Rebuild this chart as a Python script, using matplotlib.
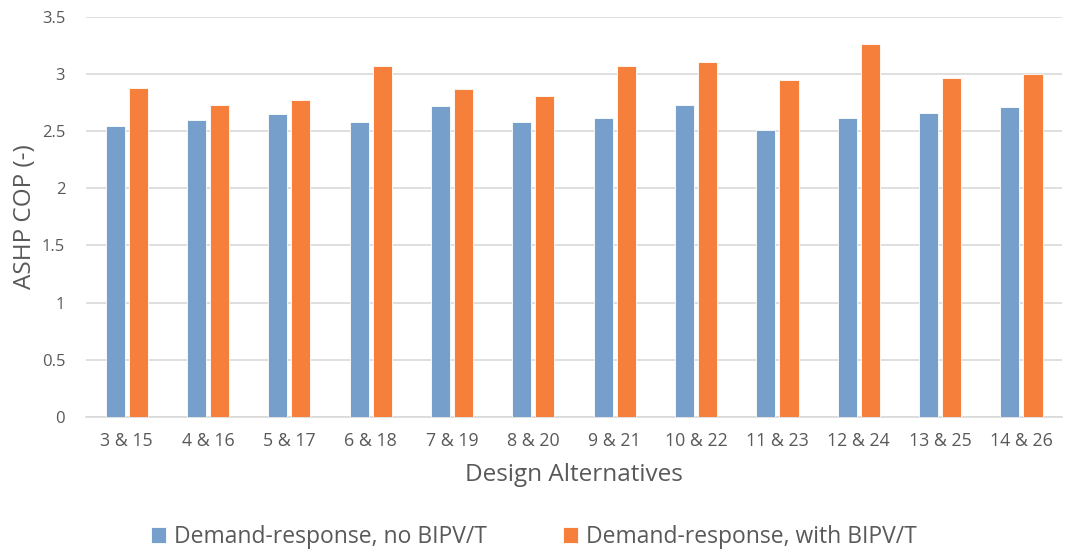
import matplotlib
matplotlib.use("Agg")
import matplotlib.pyplot as plt
import numpy as np

categories = ["3 & 15", "4 & 16", "5 & 17", "6 & 18", "7 & 19", "8 & 20",
              "9 & 21", "10 & 22", "11 & 23", "12 & 24", "13 & 25", "14 & 26"]
no_bipvt = [2.54, 2.60, 2.65, 2.58, 2.72, 2.58, 2.61, 2.73, 2.51, 2.61, 2.66, 2.71]
with_bipvt = [2.88, 2.73, 2.77, 3.07, 2.87, 2.81, 3.07, 3.10, 2.95, 3.26, 2.96, 3.00]
series_names = ["Demand-response, no BIPV/T", "Demand-response, with BIPV/T"]
yticks = [0, 0.5, 1, 1.5, 2, 2.5, 3, 3.5]

plt.rcParams['font.family'] = ['Open Sans', 'DejaVu Sans']
text_color = "#595959"
blue = "#76A0CB"
orange = "#F57F3B"

fig = plt.figure(figsize=(10.68, 5.55), dpi=100)
ax = fig.add_axes([0.0805, 0.2486, 0.914, 0.7214])

x = np.arange(len(categories))
off = 0.142
w = 0.235
ax.bar(x - off, no_bipvt, w, color=blue, edgecolor="white", linewidth=0.6,
       label=series_names[0], zorder=3)
ax.bar(x + off, with_bipvt, w, color=orange, edgecolor="white", linewidth=0.6,
       label=series_names[1], zorder=3)

ax.set_xlim(-0.5, len(categories) - 0.5)
ax.set_ylim(0, 3.5)
ax.set_yticks(yticks)
ax.set_yticklabels([f"{v:g}" for v in yticks])
ax.set_xticks(x)
ax.set_xticklabels(categories)
ax.yaxis.grid(True, color="#D9D9D9", linewidth=1.2, zorder=0)
ax.set_axisbelow(True)
for s in ["top", "right", "left"]:
    ax.spines[s].set_visible(False)
ax.spines["bottom"].set_color("#D9D9D9")
ax.spines["bottom"].set_linewidth(1.2)
ax.tick_params(axis="both", length=0, colors=text_color)
ax.tick_params(axis="y", pad=15, labelsize=12)
ax.tick_params(axis="x", pad=11, labelsize=12.8)

ax.set_ylabel("ASHP COP (-)", fontsize=17.5, color=text_color, labelpad=3)
ax.set_xlabel("Design Alternatives", fontsize=17.5, color=text_color, labelpad=9)

fig.legend(loc="center", bbox_to_anchor=(0.5, 1 - 537 / 555), ncol=2, frameon=False,
           fontsize=16.5, labelcolor=text_color, handlelength=0.66, handleheight=0.66,
           handletextpad=0.36, columnspacing=3.3)

fig.savefig("out.png", dpi=100)
